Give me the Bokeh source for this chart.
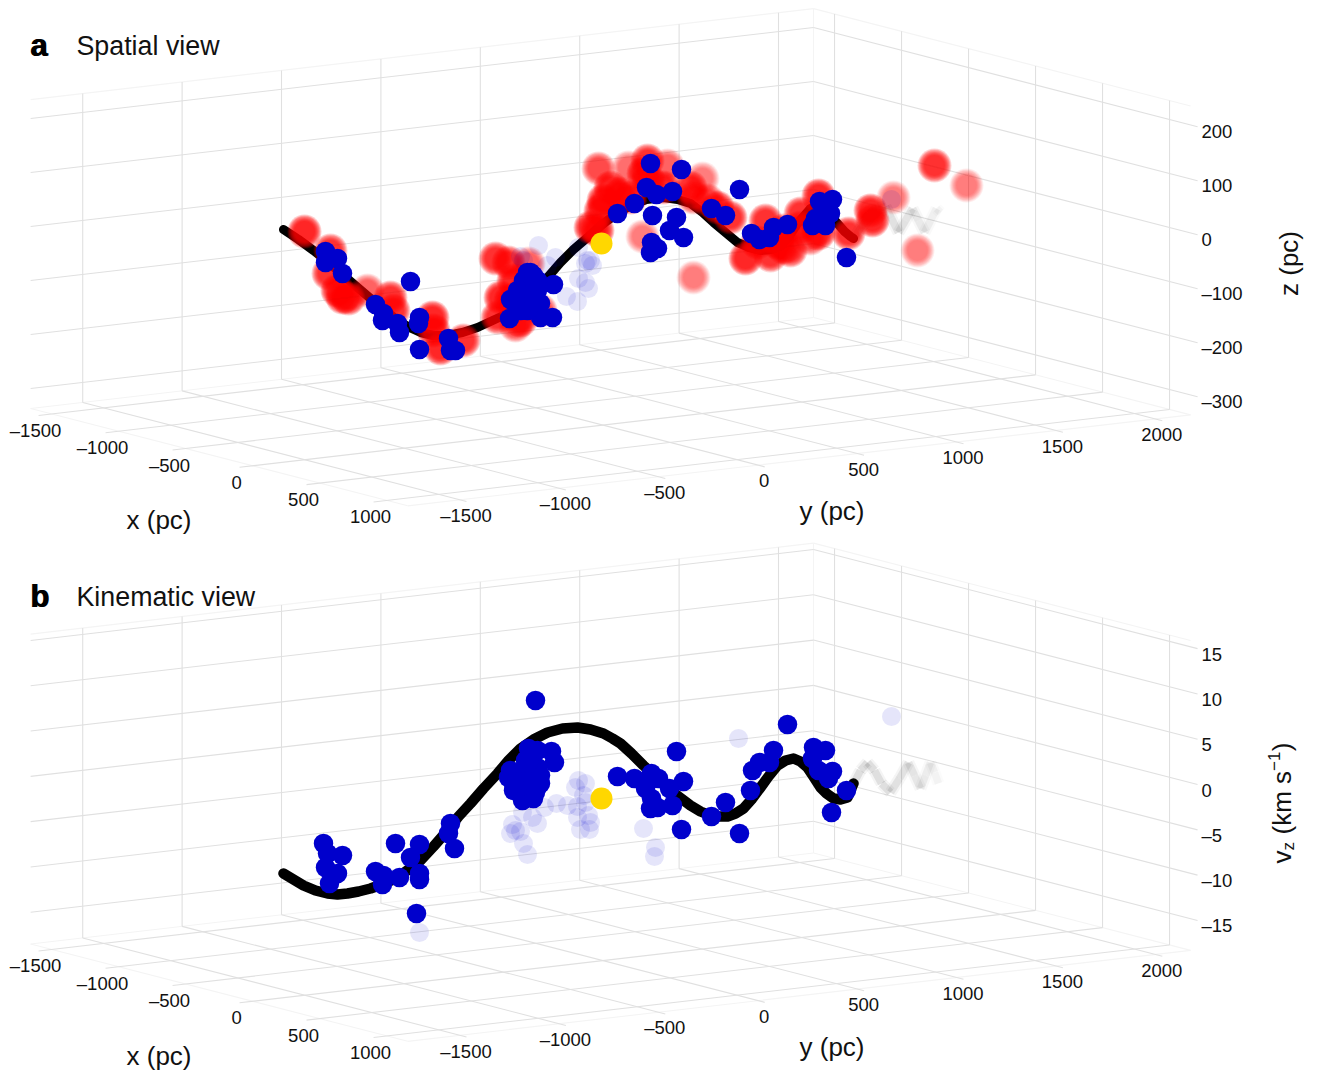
from bokeh.plotting import figure
from bokeh.embed import file_html
from bokeh.resources import INLINE
from bokeh.core.properties import value
import math

# ---- axis ticks ----
x_ticks = [-1500, -1000, -500, 0, 500, 1000]
y_ticks = [-1500, -1000, -500, 0, 500, 1000, 1500, 2000]
z_ticks_a = [200, 100, 0, -100, -200, -300]
z_ticks_b = [15, 10, 5, 0, -5, -10, -15]

# ---- values, in projected picture units ----
curve_a_u = [283,298,313,328,342,356,370,384,397,409,420,433,447,462,477,490,503,515,527,537,547,560,573,587,597,607,618,630,646,663,677,690,702,713,725,737,749,760,770,780,789,797,804,810,816,823,830,837,844,850,853]
curve_a_v = [229,239,250,262,274,286,298,309,320,327,332,335,335,332,327,321,315,308,300,289,277,262,249,237,228,220,212,205,199,197,199,203,212,222,232,242,247,250,249,245,235,223,215,208,205,208,215,223,231,236,238]
grey_a_u = [853,861,870,878,885,891,898,905,912,918,924,930,936,940]
grey_a_v = [238,226,215,208,206,218,232,220,208,220,232,220,208,212]
curve_b_u = [283,293,303,315,327,337,347,358,370,384,397,408,420,433,447,458,470,483,497,508,520,533,547,562,577,590,603,612,620,631,643,655,667,678,690,700,710,718,727,735,743,751,760,768,777,785,793,800,807,813,820,826,833,840,847,853]
curve_b_v = [873,879,885,890,893,894,893,891,888,883,877,869,860,846,830,816,803,788,773,760,748,739,732,728,727,729,733,738,743,753,765,776,787,796,805,811,815,816,816,813,808,799,787,776,765,760,758,761,767,776,787,793,798,799,797,783]
grey_b_u = [853,860,867,874,881,890,899,908,914,920,925,930,934,938]
grey_b_v = [783,770,762,770,783,792,778,762,775,788,775,762,772,783]

red_u = [304,330,328,337,348,342,367,390,393,432,433,440,463,495,508,528,513,510,497,520,500,525,
         598,603,590,597,620,628,647,667,648,643,663,690,702,642,693,717,730,745,765,777,757,800,818,818,848,870,872,893,934,966,917,783,800,783,707,693,630,610,600,540,515,770,790,810]
red_v = [231,250,273,290,298,297,290,297,310,317,330,348,340,258,262,263,280,300,317,320,297,290,
         168,200,227,230,193,167,160,165,180,173,187,187,178,236,277,207,217,258,220,242,242,227,195,233,233,210,220,197,165,185,250,230,213,247,200,197,197,187,210,310,325,255,250,238]
red_a = [.85,.8,.8,.85,.85,.85,.6,.8,.8,.85,.85,.85,.8,.8,.8,.6,.85,.85,.8,.85,.85,.85,
         .7,.85,.85,.85,.85,.55,.8,.6,.85,.85,.85,.8,.5,.5,.5,.85,.8,.85,.8,.85,.85,.8,.85,.85,.8,.85,.85,.5,.8,.5,.5,.8,.8,.8,.7,.7,.85,.85,.85,.7,.7,.8,.8,.7]

blue_a_u = [325,337,325,342,375,383,382,397,399,410,419,418,419,448,450,455,553,552,540,509,510,530,523,517,533,540,523,515,537,527,527,533,537,528,520,533,
            617,634,646,656,650,672,681,652,676,669,683,651,657,650,739,711,725,751,759,769,773,787,819,832,830,815,812,825,846]
blue_a_v = [251,258,262,273,304,313,320,323,332,281,317,323,349,338,350,350,284,317,317,318,299,272,280,290,290,303,303,303,280,310,272,275,290,295,310,300,
            213,203,187,194,163,191,169,215,217,230,237,242,248,252,189,208,215,233,239,237,227,224,201,199,213,218,225,225,257]
blue_b_u = [323,327,342,325,337,329,375,383,382,399,395,419,410,419,419,450,448,454,416,535,551,554,528,537,525,537,510,523,517,538,513,527,522,533,540,508,530,520,530,540,513,535,528,
            617,634,651,658,645,683,669,676,651,657,650,672,681,711,725,739,750,752,759,769,773,787,813,825,812,818,832,828,846,831]
blue_b_v = [843,853,855,867,873,883,871,875,884,877,843,844,857,873,879,823,833,848,913,700,751,762,748,750,760,767,770,773,780,785,790,790,800,798,783,777,775,785,780,775,783,792,762,
            776,778,773,778,788,781,788,751,798,807,808,805,829,816,802,833,790,770,762,762,750,724,747,750,758,770,771,778,790,812]

faint_a_u = [538,555,547,523,578,590,585,592,578,585,588,566,577,587,520,891]
faint_a_v = [245,257,265,260,247,260,263,265,278,282,288,296,301,260,256,199]
faint_b_u = [578,585,575,583,585,577,567,556,544,577,588,590,580,589,522,532,537,512,510,520,515,523,527,419,738,891,643,655,654]
faint_b_v = [780,783,787,795,802,806,805,803,807,817,815,822,829,829,812,817,823,824,833,831,830,843,854,932,738,716,828,847,856]

sun_u = [601, 601]
sun_v = [243, 798]

# ---- projection of the box (parallel projection of the 3-D scene) ----
EX = (0.134, 0.0346)     # picture units per pc along x
EY = (0.1988, -0.0231)   # picture units per pc along y
XB, YB = -1657.0, 2176.0
XMAX, YMIN = 1157.0, -1762.0
PANELS = {
    "a": dict(by=317.0, zs=0.54, zf=-337.0, zt=235.0),
    "b": dict(by=852.5, zs=9.06, zf=-18.5, zt=15.7),
}

def proj(x, y, z, P):
    u = 813.0 + (x - XB) * EX[0] + (y - YB) * EY[0]
    v = P["by"] + (x - XB) * EX[1] + (y - YB) * EY[1] - (z - P["zf"]) * P["zs"]
    return u, v

W, H = 1310, 1070
p = figure(width=W, height=H, x_range=(0, W), y_range=(H, 0),
           x_axis_type=None, y_axis_type=None, toolbar_location=None,
           output_backend="svg", min_border=0, outline_line_color=None,
           background_fill_color="white", border_fill_color="white")

FONT = value("Liberation Sans")
GRID = "#e0e0e0"
EDGE = "#f4f4f4"

def seg(a, b, P, color=GRID):
    ua, va = proj(*a, P)
    ub, vb = proj(*b, P)
    p.line([ua, ub], [va, vb], line_color=color, line_width=1.1)

def box(P, zticks, dz):
    zf, zt = P["zf"], P["zt"]
    # faint edges
    seg((XB, YMIN, zt), (XB, YB, zt), P, EDGE)
    seg((XB, YB, zt), (XMAX, YB, zt), P, EDGE)
    seg((XB, YB, zf), (XB, YB, zt), P, EDGE)
    seg((XB, YMIN, zf), (XB, YB, zf), P, EDGE)
    seg((XB, YB, zf), (XMAX, YB, zf), P, EDGE)
    seg((XB, YMIN, zf), (XMAX, YMIN, zf), P, EDGE)
    seg((XMAX, YMIN, zf), (XMAX, YB, zf), P, EDGE)
    # walls
    for t in y_ticks:
        seg((XB, t, zf), (XB, t, zt), P)
        seg((XB, t, zf), (XMAX + 50, t, zf), P)
    for t in x_ticks:
        seg((t, YB, zf), (t, YB, zt), P)
        seg((t, YB, zf), (t, YMIN - 66, zf), P)
    for t in zticks:
        seg((XB, YMIN, t), (XB, YB, t), P)
        seg((XB, YB, t), (XMAX + 52, YB, t), P)
    # tick labels
    tu, tv, tt = [], [], []
    for t in x_ticks:
        u, v = proj(t, YMIN - 66, zf, P)
        tu.append(u - 3); tv.append(v + 15); tt.append(f"{t}".replace("-", "\u2013"))
    for t in y_ticks:
        u, v = proj(XMAX + 50, t, zf, P)
        tu.append(u - 0.5); tv.append(v + 14); tt.append(f"{t}".replace("-", "\u2013"))
    p.text(tu, tv, text=tt, text_font=FONT, text_font_size=value("18.5px"), text_color="#111111",
           text_align="center", text_baseline="middle")
    lu, lv, lt = [], [], []
    for t in zticks:
        u, v = proj(XMAX + 52, YB, t, P)
        lu.append(1201); lv.append(v + dz); lt.append(f"{t}".replace("-", "\u2013"))
    p.text(lu, lv, text=lt, text_font=FONT, text_font_size=value("18.5px"), text_color="#111111",
           text_align="left", text_baseline="middle")

box(PANELS["a"], z_ticks_a, 4.5)
box(PANELS["b"], z_ticks_b, 5.5)

def curve(us, vs, gu, gv, width):
    p.line(us, vs, line_color="black", line_width=width, line_cap="round", line_join="round")
    n = len(gu) - 1
    xs = [[gu[i], gu[i + 1]] for i in range(n)]
    ys = [[gv[i], gv[i + 1]] for i in range(n)]
    al = [0.09 - 0.07 * (i / n) ** 2 for i in range(n)]
    p.multi_line(xs, ys, line_color="black", line_width=12, line_alpha=[a * 0.5 for a in al], line_cap="butt")
    p.multi_line(xs, ys, line_color="black", line_width=7.5, line_alpha=al, line_cap="butt")

curve(curve_a_u, curve_a_v, grey_a_u, grey_a_v, 9)
curve(curve_b_u, curve_b_v, grey_b_u, grey_b_v, 10.5)

# soft red blobs: concentric rings
RINGS = [17.0, 16.0, 15.2, 14.4, 13.6, 12.8, 12.0, 11.2, 10.4]
ring_alpha = [1 - (1 - a) ** (1 / len(RINGS)) for a in red_a]
for r in RINGS:
    p.scatter(red_u, red_v, size=2 * r, fill_color="#ff0000", fill_alpha=ring_alpha, line_alpha=0)

BLUE = "#0000cc"
for us, vs in ((faint_a_u, faint_a_v), (faint_b_u, faint_b_v)):
    p.scatter(us, vs, size=19, fill_color=BLUE, fill_alpha=0.1, line_alpha=0)
for us, vs in ((blue_a_u, blue_a_v), (blue_b_u, blue_b_v)):
    p.scatter(us, vs, size=19.5, fill_color=BLUE, line_alpha=0)
p.scatter(sun_u, sun_v, size=22, fill_color="#ffd700", line_alpha=0)

# titles
p.text([29.5, 30.5, 29.5, 30.5], [45, 45, 596, 596], text=["a", "a", "b", "b"], text_font=FONT,
       text_font_style="bold", text_font_size=value("31px"), text_color="black", text_baseline="middle")
p.text([76, 76], [45, 596], text=["Spatial view", "Kinematic view"], text_font=FONT,
       text_font_size=value("26.8px"), text_color="#111111", text_baseline="middle")
# axis titles
p.text([126, 126, 799, 799], [519, 1055, 510, 1046], text=["x (pc)", "x (pc)", "y (pc)", "y (pc)"],
       text_font=FONT, text_font_size=value("26px"), text_color="#111111", text_baseline="middle")
up = math.pi / 2
p.text([1288], [263], text=["z (pc)"], angle=up, text_font=FONT, text_font_size=value("26px"),
       text_color="#111111", text_align="center", text_baseline="middle")
p.text([1281, 1281, 1281], [863, 834, 750.7], text=["v", "(km s", ")"], angle=up, text_font=FONT,
       text_font_size=value("26px"), text_color="#111111", text_align="left", text_baseline="middle")
p.text([1287.5, 1273], [850, 770.5], text=["z", "\u22121"], angle=up, text_font=FONT,
       text_font_size=value("17px"), text_color="#111111", text_align="left", text_baseline="middle")

open("out.html", "w").write(file_html(p, INLINE))
